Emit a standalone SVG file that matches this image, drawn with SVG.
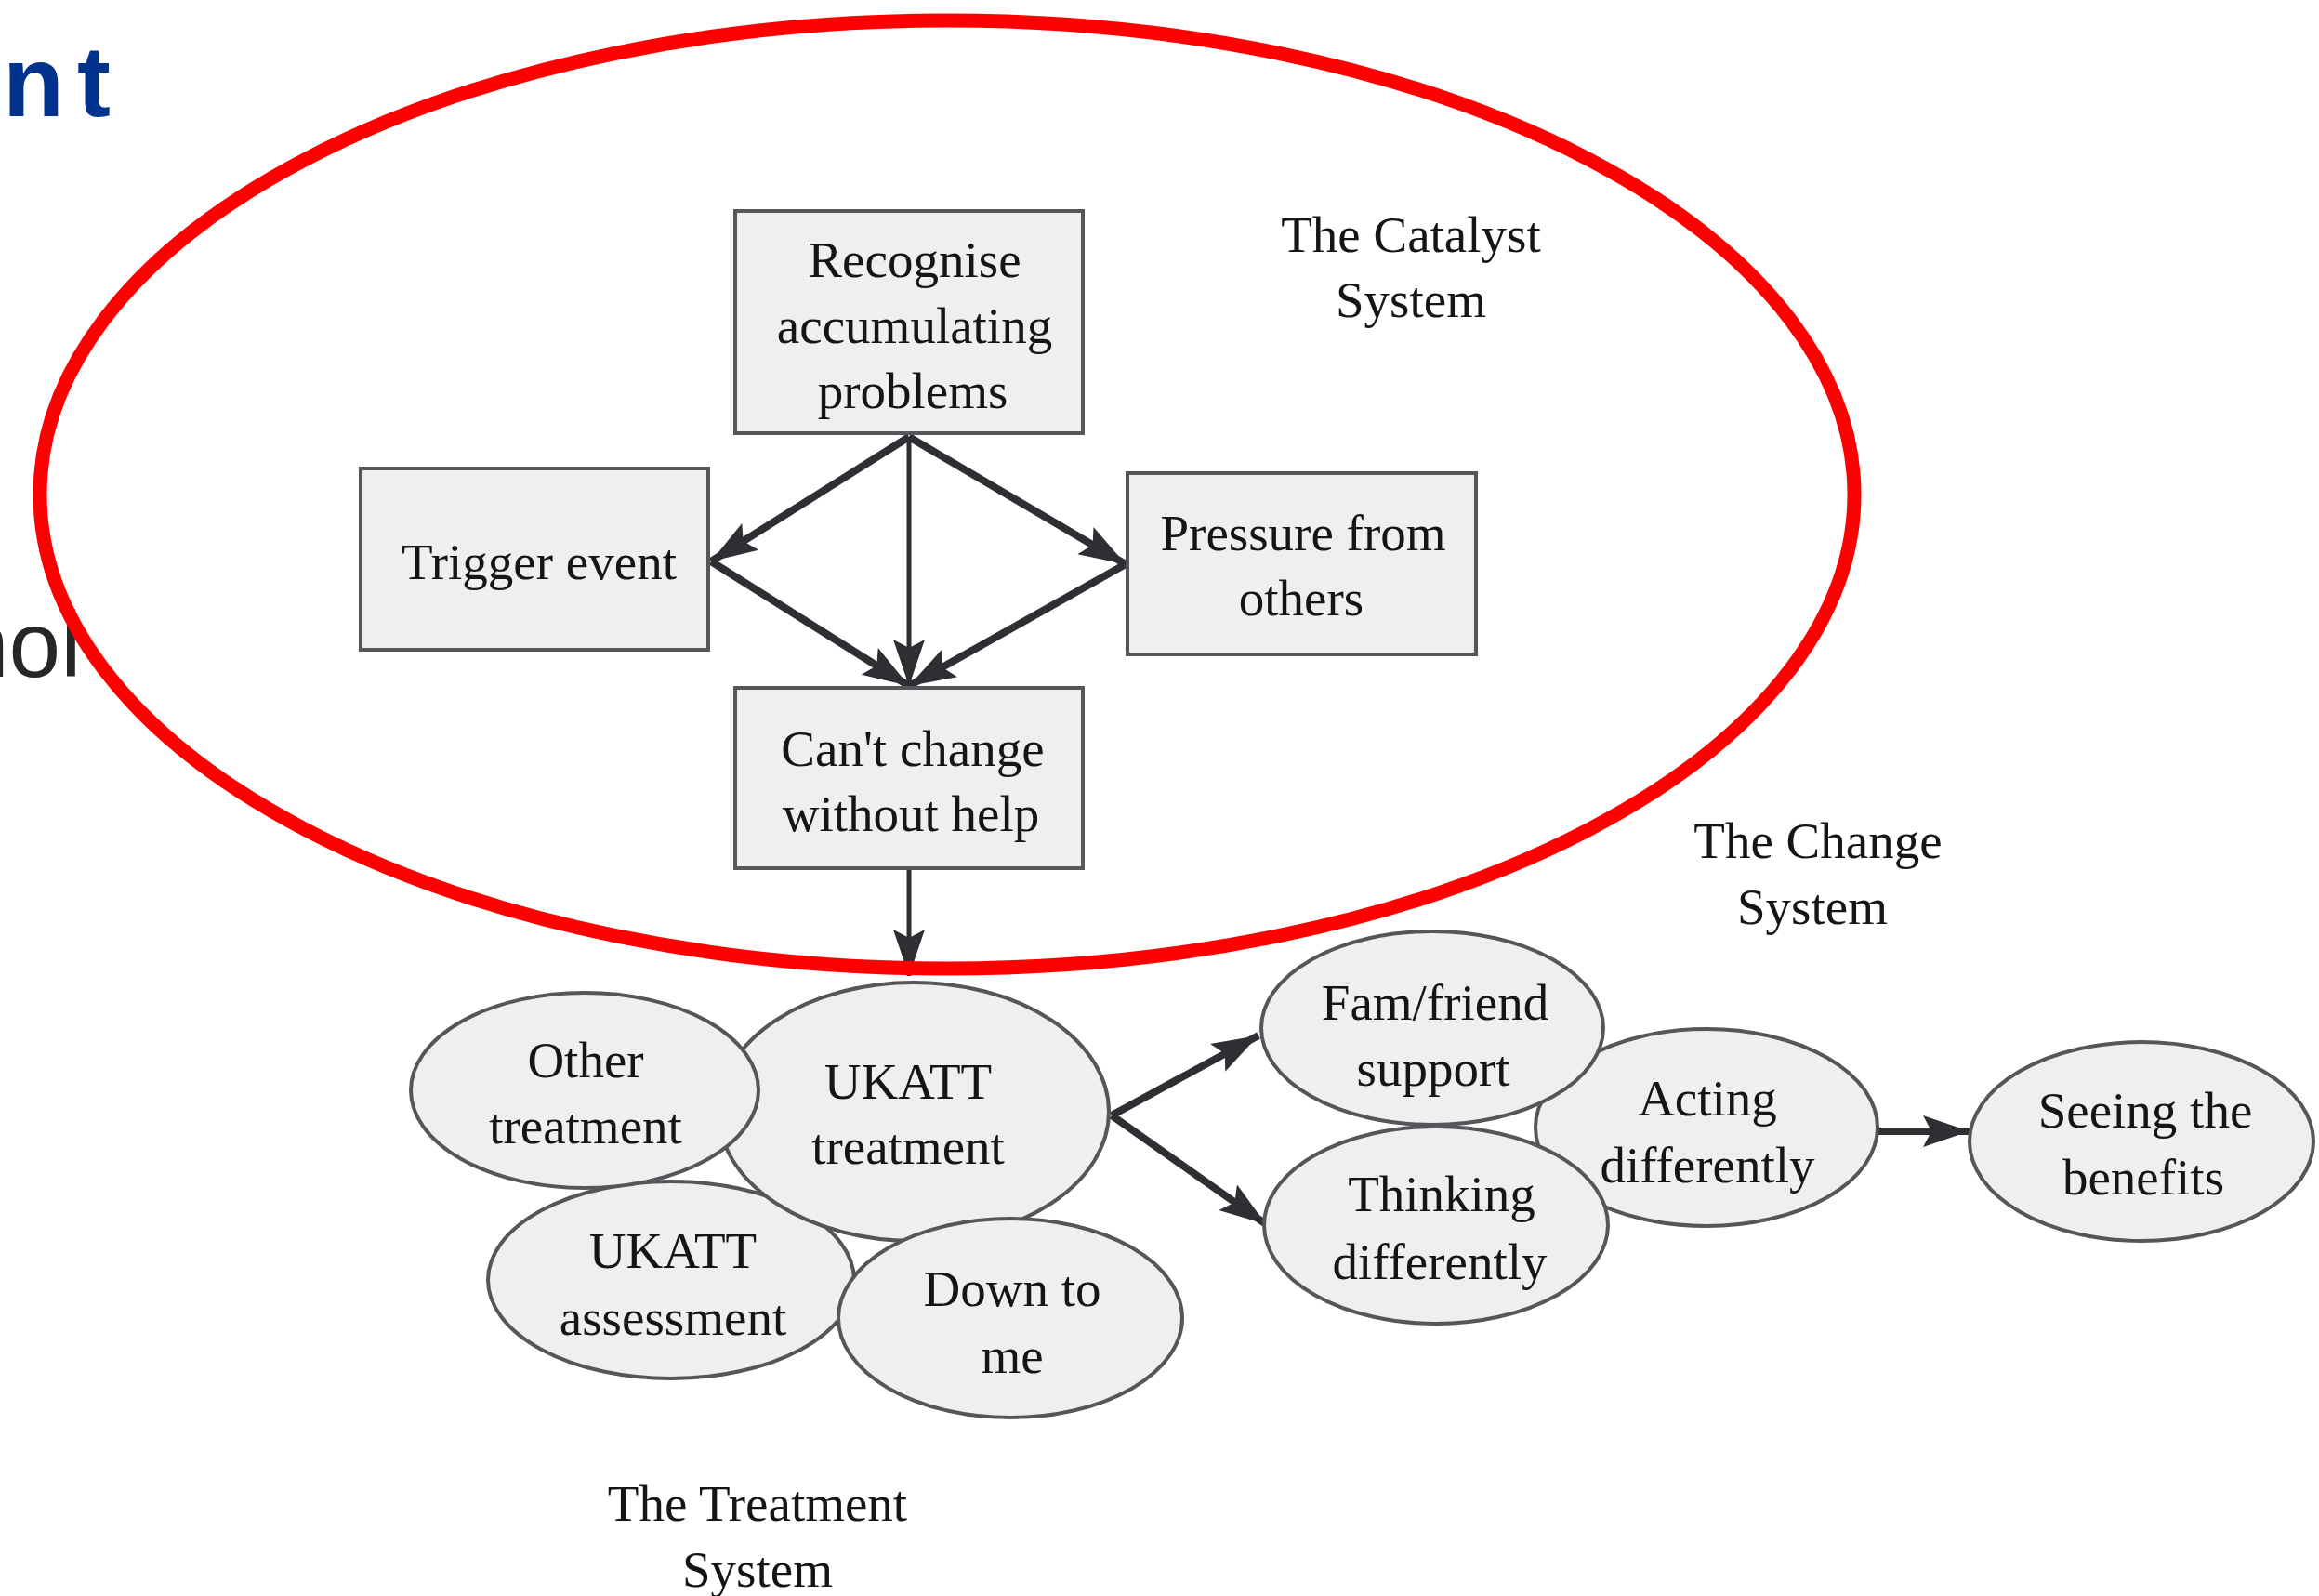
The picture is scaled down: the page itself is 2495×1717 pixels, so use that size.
<svg xmlns="http://www.w3.org/2000/svg" width="2495" height="1717" viewBox="0 0 2495 1717">
<defs>
<style>
.bx{fill:#efefef;stroke:#56575a;stroke-width:4}
.el{fill:#efefef;stroke:#55565a;stroke-width:4}
.t{font-family:"Liberation Serif","Times New Roman",serif;font-size:55px;fill:#151515;text-anchor:middle}
.ln{stroke:#2d2f33;fill:none;stroke-width:8}
.lt{stroke:#2d2f33;fill:none;stroke-width:5}
</style>
<marker id="ah" markerUnits="userSpaceOnUse" markerWidth="52" markerHeight="36" refX="50" refY="17" orient="auto">
<path d="M0,0 L50,17 L0,34 L9,17 Z" fill="#2d2f33"/>
</marker>
</defs>
<rect width="2495" height="1717" fill="#ffffff"/>
<g id="page-fragments">
<text x="3" y="125" font-family="Liberation Sans, Arial, sans-serif" font-weight="bold" font-size="108" letter-spacing="14" fill="#00338d">nt</text>
<text x="-46" y="728" font-family="Liberation Sans, Arial, sans-serif" font-size="100" fill="#262626">nol</text>
</g>
<g id="labels">
<text class="t"><tspan x="1518" y="271">The Catalyst</tspan><tspan x="1518" y="341">System</tspan></text>
<text class="t"><tspan x="1956" y="923">The Change</tspan><tspan x="1950" y="994">System</tspan></text>
<text class="t"><tspan x="815" y="1636">The Treatment</tspan><tspan x="815" y="1707">System</tspan></text>
</g>
<g id="connectors">
<path class="ln" d="M978,470 L765,604" marker-end="url(#ah)"/>
<path class="ln" d="M978,470 L1211,607" marker-end="url(#ah)"/>
<path class="lt" d="M978,470 L978,738" marker-end="url(#ah)"/>
<path class="ln" d="M765,604 L978,738" marker-end="url(#ah)"/>
<path class="ln" d="M1211,607 L978,738" marker-end="url(#ah)"/>
<path class="lt" d="M978,934 L978,1050" marker-end="url(#ah)"/>
<path class="ln" d="M1196,1200 L1354,1114" marker-end="url(#ah)"/>
<path class="ln" d="M1196,1200 L1362,1317" marker-end="url(#ah)"/>
<path class="ln" d="M2020,1217 L2119,1217" marker-end="url(#ah)"/>
</g>
<g id="n-recognise">
<rect class="bx" x="791" y="227" width="374" height="239"/>
<text class="t"><tspan x="984" y="298">Recognise</tspan><tspan x="984" y="369">accumulating</tspan><tspan x="982" y="439">problems</tspan></text>
</g>
<g id="n-trigger">
<rect class="bx" x="388" y="504" width="374" height="195"/>
<text class="t" x="580" y="623">Trigger event</text>
</g>
<g id="n-pressure">
<rect class="bx" x="1213" y="509" width="375" height="195"/>
<text class="t"><tspan x="1402" y="592">Pressure from</tspan><tspan x="1400" y="662">others</tspan></text>
</g>
<g id="n-cant">
<rect class="bx" x="791" y="740" width="374" height="194"/>
<text class="t"><tspan x="982" y="824">Can't change</tspan><tspan x="980" y="894">without help</tspan></text>
</g>
<g id="n-assessment">
<ellipse class="el" cx="722" cy="1377" rx="197" ry="106"/>
<text class="t"><tspan x="724" y="1364">UKATT</tspan><tspan x="724" y="1436">assessment</tspan></text>
</g>
<g id="n-ukatt-treatment">
<ellipse class="el" cx="983" cy="1196" rx="210" ry="139"/>
<text class="t"><tspan x="977" y="1182">UKATT</tspan><tspan x="977" y="1252">treatment</tspan></text>
</g>
<g id="n-other">
<ellipse class="el" cx="629" cy="1173" rx="187" ry="105"/>
<text class="t"><tspan x="630" y="1159">Other</tspan><tspan x="630" y="1230">treatment</tspan></text>
</g>
<g id="n-down">
<ellipse class="el" cx="1087" cy="1418" rx="185" ry="107"/>
<text class="t"><tspan x="1089" y="1405">Down to</tspan><tspan x="1089" y="1477">me</tspan></text>
</g>
<g id="n-acting">
<ellipse class="el" cx="1836" cy="1213" rx="184" ry="106"/>
<text class="t"><tspan x="1837" y="1200">Acting</tspan><tspan x="1837" y="1272">differently</tspan></text>
</g>
<g id="n-fam">
<ellipse class="el" cx="1541" cy="1106" rx="184" ry="104"/>
<text class="t"><tspan x="1544" y="1097">Fam/friend</tspan><tspan x="1542" y="1168">support</tspan></text>
</g>
<g id="n-thinking">
<ellipse class="el" cx="1545" cy="1318" rx="185" ry="106"/>
<text class="t"><tspan x="1551" y="1303">Thinking</tspan><tspan x="1549" y="1376">differently</tspan></text>
</g>
<g id="n-seeing">
<ellipse class="el" cx="2304" cy="1228" rx="185" ry="107"/>
<text class="t"><tspan x="2308" y="1213">Seeing the</tspan><tspan x="2306" y="1285">benefits</tspan></text>
</g>
<g id="highlight">
<ellipse cx="1019" cy="532" rx="976" ry="510" fill="none" stroke="#ff0000" stroke-width="15"/>
</g>
</svg>
